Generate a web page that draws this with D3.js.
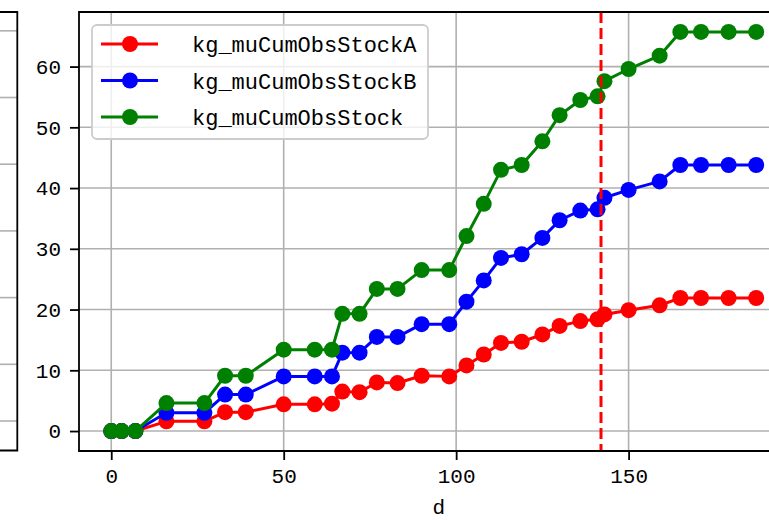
<!DOCTYPE html>
<html>
<head>
<meta charset="utf-8">
<script src="https://cdn.jsdelivr.net/npm/d3@7"></script>
<style>
  html, body { margin: 0; padding: 0; background: #fff; }
  svg { display: block; }
</style>
</head>
<body>
<div id="chart"></div>
<script>
// ---- data ----
const days = [0, 3, 7, 16, 27, 33, 39, 50, 59, 64, 67, 72, 77, 83, 90, 98, 103, 108, 113, 119, 125, 130, 136, 141, 143, 150, 159, 165, 171, 179, 187];
const stockA = [0, 0, 0, 1.6, 1.6, 3.1, 3.1, 4.4, 4.4, 4.5, 6.5, 6.4, 8.0, 7.9, 9.1, 9.0, 10.8, 12.6, 14.5, 14.7, 15.9, 17.3, 18.1, 18.4, 19.2, 19.9, 20.7, 21.9, 21.9, 21.9, 21.9];
const stockB = [0, 0, 0, 3.0, 3.0, 6.0, 6.0, 9.0, 9.0, 9.0, 12.9, 12.9, 15.5, 15.5, 17.6, 17.6, 21.3, 24.8, 28.5, 29.1, 31.8, 34.7, 36.3, 36.5, 38.4, 39.7, 41.1, 43.8, 43.8, 43.8, 43.8];
const stockTotal = [0, 0, 0, 4.6, 4.6, 9.1, 9.1, 13.4, 13.4, 13.4, 19.3, 19.3, 23.4, 23.4, 26.5, 26.5, 32.1, 37.4, 43.0, 43.8, 47.7, 52.0, 54.5, 55.1, 57.6, 59.6, 61.8, 65.7, 65.7, 65.7, 65.7];
const seriesNames = ["kg_muCumObsStockA", "kg_muCumObsStockB", "kg_muCumObsStock"];
const seriesColors = ["#ff0000", "#0000ff", "#008000"];
const refLineDay = [142];
const xTicks = [0, 50, 100, 150];
const yTicks = [0, 10, 20, 30, 40, 50, 60];
const xLabel = "d";
// partially visible neighbouring panel (only its frame and grid are visible)
const leftPanelTicks = [0, 0.85, 1.85, 2.85, 3.85, 4.85, 5.85];

const W = 769, H = 520;
const svg = d3.select("#chart").append("svg").attr("width", W).attr("height", H)
  .style("background", "#fff");

const plot = { left: 79, top: 12, bottom: 451 };
const xMin = d3.min(days), xMax = d3.max(days);
const xPad = (xMax - xMin) * 0.05;
const yMaxData = d3.max(stockTotal), yMinData = 0;
const yPad = (yMaxData - yMinData) * 0.05;

// x scale: pixel width per unit chosen so the right spine falls just outside the crop
const pxPerUnit = 3.449;
const xDomain = [xMin - xPad, xMax + xPad];
const x = d3.scaleLinear().domain(xDomain)
  .range([plot.left, plot.left + (xDomain[1] - xDomain[0]) * pxPerUnit]);
const y = d3.scaleLinear().domain([yMinData - yPad, yMaxData + yPad]).range([plot.bottom, plot.top]);

const FONT = "'Liberation Mono', 'DejaVu Sans Mono', monospace";
const gridColor = "#b0b0b0";

// ---- left partial panel ----
const yl = d3.scaleLinear().domain([0, 1]).range([421, 421 - 66.7]);
const lp = svg.append("g");
lp.selectAll("line.grid").data(leftPanelTicks).join("line")
  .attr("x1", -5).attr("x2", 17).attr("y1", d => yl(d)).attr("y2", d => yl(d))
  .attr("stroke", gridColor).attr("stroke-width", 1.6);
lp.append("path")
  .attr("d", `M-5,${plot.top}H17.3V${plot.bottom - 0.5}H-5`)
  .attr("fill", "none").attr("stroke", "#000").attr("stroke-width", 1.8);

// ---- main panel ----
const main = svg.append("g");
const clipId = "clipMain";
svg.append("clipPath").attr("id", clipId).append("rect")
  .attr("x", x.range()[0]).attr("y", plot.top)
  .attr("width", x.range()[1] - x.range()[0]).attr("height", plot.bottom - plot.top);

// grid
main.append("g").selectAll("line").data(xTicks).join("line")
  .attr("x1", d => x(d)).attr("x2", d => x(d)).attr("y1", plot.top).attr("y2", plot.bottom)
  .attr("stroke", gridColor).attr("stroke-width", 1.6);
main.append("g").selectAll("line").data(yTicks).join("line")
  .attr("x1", x.range()[0]).attr("x2", x.range()[1]).attr("y1", d => y(d)).attr("y2", d => y(d))
  .attr("stroke", gridColor).attr("stroke-width", 1.6);

// series
const seriesData = [stockA, stockB, stockTotal];
const lineGen = d3.line().x(d => x(d[0])).y(d => y(d[1]));
const dataG = main.append("g").attr("clip-path", `url(#${clipId})`);
seriesData.forEach((vals, i) => {
  const pts = days.map((d, j) => [d, vals[j]]);
  const g = dataG.append("g");
  g.append("path").datum(pts).attr("d", lineGen)
    .attr("fill", "none").attr("stroke", seriesColors[i]).attr("stroke-width", 3)
    .attr("stroke-linejoin", "round");
  g.selectAll("circle").data(pts).join("circle")
    .attr("cx", d => x(d[0])).attr("cy", d => y(d[1])).attr("r", 8)
    .attr("fill", seriesColors[i]);
});

// reference vertical dashed line
dataG.selectAll("line.ref").data(refLineDay).join("line")
  .attr("x1", d => x(d)).attr("x2", d => x(d)).attr("y1", plot.top).attr("y2", plot.bottom)
  .attr("stroke", "#ff0000").attr("stroke-width", 3).attr("stroke-dasharray", "11,5");

// axes
const xAxis = d3.axisBottom(x).tickValues(xTicks).tickSize(9).tickPadding(8).tickFormat(d3.format("d"));
const yAxis = d3.axisLeft(y).tickValues(yTicks).tickSize(9).tickPadding(9).tickFormat(d3.format("d"));
const gx = main.append("g").attr("transform", `translate(0,${plot.bottom})`).call(xAxis);
const gy = main.append("g").attr("transform", `translate(${plot.left},0)`).call(yAxis);
[gx, gy].forEach(g => {
  g.select(".domain").remove();
  g.selectAll(".tick line").attr("stroke", "#000").attr("stroke-width", 1.8);
  g.selectAll(".tick text").attr("fill", "#000").style("font-family", FONT).style("font-size", "21px");
});

// spines
main.append("path")
  .attr("d", `M${x.range()[1]},${plot.top}H${plot.left}V${plot.bottom}H${x.range()[1]}`)
  .attr("fill", "none").attr("stroke", "#000").attr("stroke-width", 1.8);

// x label
svg.append("text").attr("x", x(95)).attr("y", 514).attr("text-anchor", "middle")
  .style("font-family", FONT).style("font-size", "21px").text(xLabel);

// legend
const leg = svg.append("g").attr("transform", "translate(92,25)");
leg.append("rect").attr("width", 336).attr("height", 114).attr("rx", 5)
  .attr("fill", "#fff").attr("fill-opacity", 0.8).attr("stroke", "#cccccc").attr("stroke-width", 1.8);
seriesNames.forEach((name, i) => {
  const row = leg.append("g").attr("transform", `translate(0,${19 + i * 36.5})`);
  row.append("line").attr("x1", 9).attr("x2", 66).attr("y1", 0).attr("y2", 0)
    .attr("stroke", seriesColors[i]).attr("stroke-width", 3);
  row.append("circle").attr("cx", 38).attr("cy", 0).attr("r", 8).attr("fill", seriesColors[i]);
  row.append("text").attr("x", 100).attr("y", 8).style("font-family", FONT).style("font-size", "22px")
    .attr("fill", "#000").text(name);
});
</script>
</body>
</html>
